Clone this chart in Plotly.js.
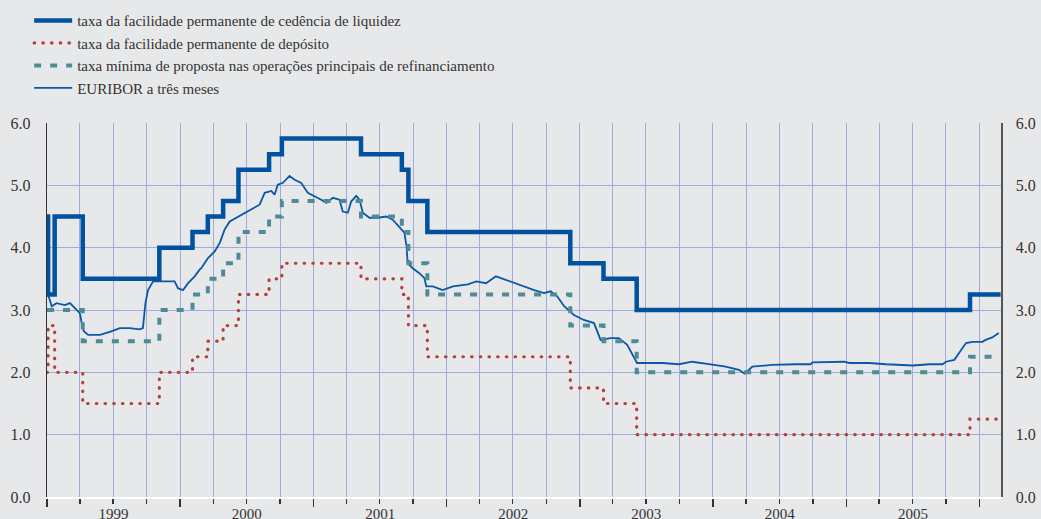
<!DOCTYPE html>
<html>
<head>
<meta charset="utf-8">
<script src="https://cdn.plot.ly/plotly-3.0.1.min.js"></script>
<style>
  html, body { margin: 0; padding: 0; background: #e7e8ea; }
  #chart { width: 1041px; height: 519px; }
  .tracedep path.js-line { stroke-linecap: round; }
  .legend .traces:nth-child(2) .legendlines path { stroke-linecap: round; }
</style>
</head>
<body>
<div id="chart"></div>
<script>
// ---- Legend labels ----
const seriesNames = [
  "taxa da facilidade permanente de cedência de liquidez",
  "taxa da facilidade permanente de depósito",
  "taxa mínima de proposta nas operações principais de refinanciamento",
  "EURIBOR a três meses"
];

// ---- Policy rate change dates (step series) ----
const lendingDates = ["1999-01-01","1999-01-04","1999-01-22","1999-04-09","1999-11-05","2000-02-04","2000-03-17","2000-04-28","2000-06-09","2000-09-01","2000-10-06","2001-05-11","2001-08-31","2001-09-18","2001-11-09","2002-12-06","2003-03-07","2003-06-06","2005-12-06","2006-02-28"];
const lendingRate  = [4.50, 3.25, 4.50, 3.50, 4.00, 4.25, 4.50, 4.75, 5.25, 5.50, 5.75, 5.50, 5.25, 4.75, 4.25, 3.75, 3.50, 3.00, 3.25, 3.25];

const depositDates = ["1999-01-01","1999-01-04","1999-01-22","1999-04-09","1999-11-05","2000-02-04","2000-03-17","2000-04-28","2000-06-09","2000-09-01","2000-10-06","2001-05-11","2001-08-31","2001-09-18","2001-11-09","2002-12-06","2003-03-07","2003-06-06","2005-12-06","2006-02-28"];
const depositRate  = [2.00, 2.75, 2.00, 1.50, 2.00, 2.25, 2.50, 2.75, 3.25, 3.50, 3.75, 3.50, 3.25, 2.75, 2.25, 1.75, 1.50, 1.00, 1.25, 1.25];

const mroDates = ["1999-01-01","1999-04-09","1999-11-05","2000-02-04","2000-03-17","2000-04-28","2000-06-09","2000-09-01","2000-10-06","2001-05-11","2001-08-31","2001-09-18","2001-11-09","2002-12-06","2003-03-07","2003-06-06","2005-12-06","2006-02-28"];
const mroRate  = [3.00, 2.50, 3.00, 3.25, 3.50, 3.75, 4.25, 4.50, 4.75, 4.50, 4.25, 3.75, 3.25, 2.75, 2.50, 2.00, 2.25, 2.25];

// ---- 3-month EURIBOR ----
const euriborDates = ["1999-01-04","1999-01-14","1999-01-27","1999-02-19","1999-03-05","1999-03-18","1999-04-01","1999-04-06","1999-04-12","1999-04-24","1999-05-26","1999-06-22","1999-07-20","1999-08-16","1999-09-12","1999-09-21","1999-09-28","1999-10-05","1999-10-19","1999-11-15","1999-12-17","1999-12-26",
"2000-01-09","2000-01-23","2000-02-10","2000-02-24","2000-02-28","2000-03-17","2000-04-05","2000-04-19","2000-05-02","2000-05-16","2000-06-03","2000-06-26","2000-07-19","2000-08-06","2000-08-20","2000-09-07","2000-09-16","2000-09-25","2000-10-09","2000-10-27","2000-11-10","2000-11-28","2000-12-16",
"2001-01-04","2001-01-22","2001-02-05","2001-02-23","2001-03-13","2001-03-22","2001-04-05","2001-04-14","2001-04-28","2001-05-07","2001-05-16","2001-06-03","2001-06-26","2001-07-19","2001-08-06","2001-08-24","2001-09-07","2001-09-13","2001-09-16","2001-09-30","2001-10-18","2001-11-01","2001-11-06","2001-11-24","2001-12-21",
"2002-01-18","2002-02-05","2002-02-28","2002-03-23","2002-04-19","2002-05-16","2002-06-08","2002-07-05","2002-08-01","2002-08-29","2002-09-25","2002-10-13","2002-10-31","2002-11-19","2002-12-16",
"2003-01-12","2003-02-09","2003-02-27","2003-03-26","2003-04-18","2003-05-11","2003-05-29","2003-06-07","2003-06-21","2003-08-15","2003-09-30","2003-11-05","2003-12-21",
"2004-02-05","2004-03-12","2004-03-28","2004-04-18","2004-06-12","2004-08-15","2004-09-25","2004-09-30","2004-11-15","2004-12-26",
"2005-01-09","2005-03-05","2005-04-20","2005-07-02","2005-08-17","2005-09-22","2005-10-01","2005-10-24","2005-11-06","2005-11-25","2005-12-13",
"2006-01-09","2006-01-18","2006-02-05","2006-02-23"];
const euriborRate = [3.25,3.06,3.11,3.08,3.11,3.03,2.95,2.80,2.66,2.60,2.60,2.65,2.71,2.71,2.69,2.71,3.11,3.32,3.46,3.46,3.46,3.35,
3.32,3.43,3.54,3.65,3.67,3.83,3.94,4.08,4.29,4.42,4.48,4.56,4.64,4.69,4.88,4.91,4.85,5.01,5.04,5.15,5.09,5.04,4.88,
4.83,4.77,4.72,4.80,4.77,4.58,4.56,4.74,4.83,4.77,4.56,4.48,4.48,4.50,4.45,4.34,4.24,4.02,3.75,3.67,3.59,3.51,3.38,3.38,3.32,
3.38,3.39,3.41,3.46,3.43,3.54,3.49,3.43,3.38,3.32,3.27,3.30,3.22,3.06,2.92,
2.84,2.79,2.52,2.55,2.55,2.44,2.25,2.15,2.15,2.15,2.13,2.17,2.13,
2.09,2.04,1.98,2.09,2.12,2.13,2.13,2.16,2.17,2.17,
2.15,2.15,2.13,2.11,2.13,2.13,2.17,2.20,2.31,2.47,2.49,
2.49,2.52,2.56,2.63];

const yTickVals = [0,1,2,3,4,5,6];

const fontFamily = '"Tinos", "Nimbus Roman", "Nimbus Roman No9 L", "FreeSerif", "DejaVu Serif Condensed", "DejaVu Serif", serif';
const textColor = '#333333';
const gridColor = '#a0aadb';
const bg = '#e7e8ea';

const data = [
  { x: euriborDates, y: euriborRate, type: 'scatter', mode: 'lines', name: seriesNames[3], legendrank: 4,
    line: { color: '#0b57a8', width: 1.8 } },
  { x: depositDates, y: depositRate, type: 'scatter', mode: 'lines', name: seriesNames[1], legendrank: 2, uid: 'dep',
    line: { color: '#b5403a', width: 3.2, shape: 'hv', dash: '0.5px,8.2px' } },
  { x: mroDates, y: mroRate, type: 'scatter', mode: 'lines', name: seriesNames[2], legendrank: 3,
    line: { color: '#4f8b97', width: 4, shape: 'hv', dash: '7px,9px' } },
  { x: lendingDates, y: lendingRate, type: 'scatter', mode: 'lines', name: seriesNames[0], legendrank: 1,
    yaxis: 'y2',
    line: { color: '#0052a0', width: 4.5, shape: 'hv' } }
];

const layout = {
  width: 1041, height: 519,
  paper_bgcolor: bg, plot_bgcolor: bg,
  margin: { l: 47, r: 40, t: 123, b: 22, pad: 0, autoexpand: false },
  font: { family: fontFamily, size: 15, color: textColor },
  showlegend: true,
  legend: {
    xref: 'container', yref: 'container',
    x: 0.028, y: 0.992, xanchor: 'left', yanchor: 'top',
    bgcolor: 'rgba(0,0,0,0)', borderwidth: 0,
    font: { family: fontFamily, size: 15, color: textColor },
    tracegroupgap: 0, itemwidth: 38
  },
  xaxis: {
    type: 'date',
    range: ['1999-01-01', '2006-03-01'],
    tick0: '1999-01-01', dtick: 'M12',
    tickformat: '%Y', ticklabelmode: 'period',
    ticks: 'outside', ticklen: 8, tickwidth: 1.5, tickcolor: '#333',
    ticklabelstandoff: -6,
    showline: true, linecolor: '#ffffff', linewidth: 2,
    showgrid: true, gridcolor: gridColor, gridwidth: 1,
    zeroline: false,
    minor: { dtick: 'M3', tick0: '1999-01-01', ticks: 'outside', ticklen: 5, tickwidth: 1.5, tickcolor: '#333',
             showgrid: true, gridcolor: gridColor, gridwidth: 1 },
    tickfont: { family: fontFamily, size: 15, color: textColor },
    fixedrange: true
  },
  yaxis: {
    range: [0, 6], tickvals: yTickVals, tickformat: '.1f',
    ticks: 'outside', ticklen: 12, tickcolor: 'rgba(0,0,0,0)',
    showline: true, linecolor: '#333', linewidth: 1.2,
    showgrid: true, gridcolor: gridColor, gridwidth: 1,
    zeroline: false,
    tickfont: { family: fontFamily, size: 16, color: textColor },
    fixedrange: true
  },
  yaxis2: {
    overlaying: 'y', side: 'right', anchor: 'x',
    range: [0, 6], tickvals: yTickVals, tickformat: '.1f',
    ticks: 'outside', ticklen: 10, tickcolor: 'rgba(0,0,0,0)',
    showline: true, linecolor: '#555', linewidth: 1.5,
    showgrid: false, zeroline: false,
    tickfont: { family: fontFamily, size: 16, color: textColor },
    fixedrange: true
  }
};

Plotly.newPlot('chart', data, layout, { staticPlot: true, displayModeBar: false });
</script>
</body>
</html>
